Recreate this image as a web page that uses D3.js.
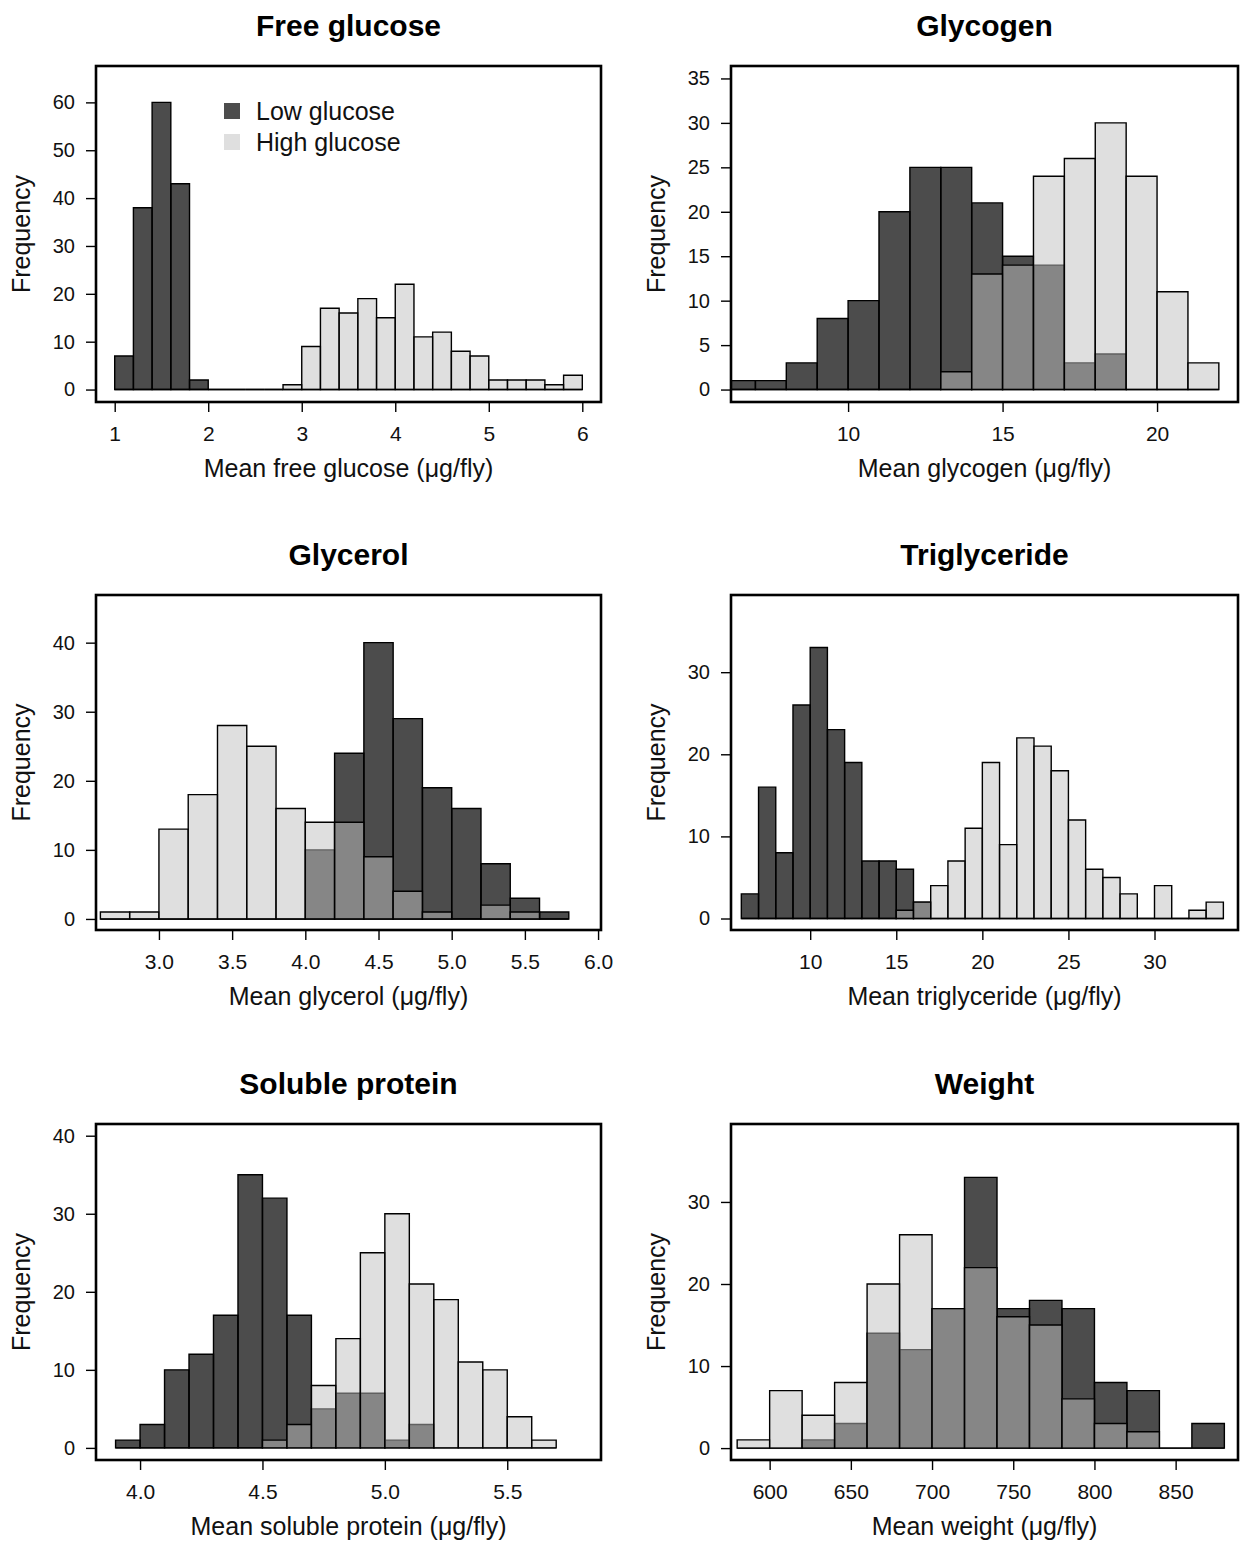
<!DOCTYPE html>
<html>
<head>
<meta charset="utf-8">
<script src="https://cdn.jsdelivr.net/npm/d3@7"></script>
<style>
  body { margin: 0; background: #fff; }
  svg { display: block; font-family: "Liberation Sans", Arial, Helvetica, sans-serif; }
</style>
</head>
<body>
<svg id="chart" width="1241" height="1542"></svg>
<script>
// histogram bin edges and counts
const glucoseBreaks = [1.0,1.2,1.4,1.6,1.8,2.0,2.2,2.4,2.6,2.8,3.0,3.2,3.4,3.6,3.8,4.0,4.2,4.4,4.6,4.8,5.0,5.2,5.4,5.6,5.8,6.0];
const glucoseLow  = [7,38,60,43,2,0,0,0,0,0,0,0,0,0,0,0,0,0,0,0,0,0,0,0,0];
const glucoseHigh = [0,0,0,0,0,0,0,0,0,1,9,17,16,19,15,22,11,12,8,7,2,2,2,1,3];

const glycogenBreaks = [6,7,8,9,10,11,12,13,14,15,16,17,18,19,20,21,22];
const glycogenLow  = [1,1,3,8,10,20,25,25,21,15,14,3,4,0,0,0];
const glycogenHigh = [0,0,0,0,0,0,0,2,13,14,24,26,30,24,11,3];

const glycerolBreaks = [2.6,2.8,3.0,3.2,3.4,3.6,3.8,4.0,4.2,4.4,4.6,4.8,5.0,5.2,5.4,5.6,5.8];
const glycerolLow  = [0,0,0,0,0,0,0,10,24,40,29,19,16,8,3,1];
const glycerolHigh = [1,1,13,18,28,25,16,14,14,9,4,1,0,2,1,0];

const trigBreaks = [6,7,8,9,10,11,12,13,14,15,16,17,18,19,20,21,22,23,24,25,26,27,28,29,30,31,32,33,34];
const trigLow  = [3,16,8,26,33,23,19,7,7,6,2,0,0,0,0,0,0,0,0,0,0,0,0,0,0,0,0,0];
const trigHigh = [0,0,0,0,0,0,0,0,0,1,2,4,7,11,19,9,22,21,18,12,6,5,3,0,4,0,1,2];

const proteinBreaks = [3.9,4.0,4.1,4.2,4.3,4.4,4.5,4.6,4.7,4.8,4.9,5.0,5.1,5.2,5.3,5.4,5.5,5.6,5.7];
const proteinLow  = [1,3,10,12,17,35,32,17,5,7,7,1,3,0,0,0,0,0];
const proteinHigh = [0,0,0,0,0,0,1,3,8,14,25,30,21,19,11,10,4,1];

const weightBreaks = [580,600,620,640,660,680,700,720,740,760,780,800,820,840,860,880];
const weightLow  = [0,0,1,3,14,12,17,33,17,18,17,8,7,0,3];
const weightHigh = [1,7,4,8,20,26,17,22,16,15,6,3,2,0,0];

// tick values
const glucoseXTicks = [1,2,3,4,5,6];
const glucoseYTicks = [0,10,20,30,40,50,60];
const glycogenXTicks = [10,15,20];
const glycogenYTicks = [0,5,10,15,20,25,30,35];
const glycerolXTicks = [3.0,3.5,4.0,4.5,5.0,5.5,6.0];
const glycerolYTicks = [0,10,20,30,40];
const trigXTicks = [10,15,20,25,30];
const trigYTicks = [0,10,20,30];
const proteinXTicks = [4.0,4.5,5.0,5.5];
const proteinYTicks = [0,10,20,30,40];
const weightXTicks = [600,650,700,750,800,850];
const weightYTicks = [0,10,20,30];

const legendLabels = ["Low glucose", "High glucose"];

const panels = [
  {title: "Free glucose", xlab: "Mean free glucose (\u03bcg/fly)", breaks: glucoseBreaks, low: glucoseLow, high: glucoseHigh,
   xTicks: glucoseXTicks, yTicks: glucoseYTicks, xlim: [0.8, 6.2], ylim: [-2.6, 67.6], col: 0, row: 0, fmt: d3.format("d"), legend: true},
  {title: "Glycogen", xlab: "Mean glycogen (\u03bcg/fly)", breaks: glycogenBreaks, low: glycogenLow, high: glycogenHigh,
   xTicks: glycogenXTicks, yTicks: glycogenYTicks, xlim: [6.21, 22.62], ylim: [-1.4, 36.4], col: 1, row: 0, fmt: d3.format("d")},
  {title: "Glycerol", xlab: "Mean glycerol (\u03bcg/fly)", breaks: glycerolBreaks, low: glycerolLow, high: glycerolHigh,
   xTicks: glycerolXTicks, yTicks: glycerolYTicks, xlim: [2.57, 6.02], ylim: [-1.6, 46.9], col: 0, row: 1, fmt: d3.format(".1f")},
  {title: "Triglyceride", xlab: "Mean triglyceride (\u03bcg/fly)", breaks: trigBreaks, low: trigLow, high: trigHigh,
   xTicks: trigXTicks, yTicks: trigYTicks, xlim: [5.4, 34.85], ylim: [-1.4, 39.4], col: 1, row: 1, fmt: d3.format("d")},
  {title: "Soluble protein", xlab: "Mean soluble protein (\u03bcg/fly)", breaks: proteinBreaks, low: proteinLow, high: proteinHigh,
   xTicks: proteinXTicks, yTicks: proteinYTicks, xlim: [3.82, 5.883], ylim: [-1.55, 41.5], col: 0, row: 2, fmt: d3.format(".1f")},
  {title: "Weight", xlab: "Mean weight (\u03bcg/fly)", breaks: weightBreaks, low: weightLow, high: weightHigh,
   xTicks: weightXTicks, yTicks: weightYTicks, xlim: [576.2, 888.4], ylim: [-1.45, 39.5], col: 1, row: 2, fmt: d3.format("d")}
];

// box geometry of the 2 x 3 grid
const colLeft = [96, 731], colRight = [601, 1238];
const rowTop = [66, 595, 1124], rowBottom = [402, 930, 1460];

const lowFill = "rgba(0,0,0,0.7)";
const highFill = "rgba(191,191,191,0.5)";

const svg = d3.select("#chart");
svg.append("rect").attr("width", 1241).attr("height", 1542).attr("fill", "#fff");

panels.forEach((p, i) => {
  const x0 = colLeft[p.col], x1 = colRight[p.col];
  const y0 = rowTop[p.row], y1 = rowBottom[p.row];
  const x = d3.scaleLinear().domain(p.xlim).range([x0, x1]);
  const y = d3.scaleLinear().domain(p.ylim).range([y1, y0]);

  const g = svg.append("g");

  g.append("clipPath").attr("id", "clip" + i)
    .append("rect").attr("x", x0).attr("y", y0).attr("width", x1 - x0).attr("height", y1 - y0);

  const bars = g.append("g").attr("clip-path", `url(#clip${i})`);

  const barPath = (d, j) => {
    const a = x(p.breaks[j]), b = x(p.breaks[j + 1]);
    return `M${a},${y(0)}V${y(d)}H${b}V${y(0)}Z`;
  };

  [[p.low, lowFill], [p.high, highFill]].forEach(([counts, fill]) => {
    bars.append("g").selectAll("path")
      .data(counts)
      .join("path")
      .attr("d", barPath)
      .attr("fill", fill)
      .attr("stroke", "#000")
      .attr("stroke-width", 1.4)
      .attr("stroke-linejoin", "miter");
  });

  // box
  g.append("rect")
    .attr("x", x0).attr("y", y0)
    .attr("width", x1 - x0).attr("height", y1 - y0)
    .attr("fill", "none").attr("stroke", "#000").attr("stroke-width", 2.6);

  // x axis
  const xAxis = d3.axisBottom(x).tickValues(p.xTicks).tickFormat(p.fmt).tickSize(9).tickPadding(14);
  const gx = g.append("g").attr("transform", `translate(0,${y1 + 1})`).call(xAxis);
  gx.select(".domain").remove();
  gx.selectAll("line").attr("stroke", "#000").attr("stroke-width", 1.4);
  gx.selectAll("text").attr("font-size", 21).attr("fill", "#111").attr("font-family", null);

  // y axis
  const yAxis = d3.axisLeft(y).tickValues(p.yTicks).tickFormat(d3.format("d")).tickSize(9).tickPadding(11);
  const gy = g.append("g").attr("transform", `translate(${x0 - 1},0)`).call(yAxis);
  gy.select(".domain").remove();
  gy.selectAll("line").attr("stroke", "#000").attr("stroke-width", 1.4);
  gy.selectAll("text").attr("font-size", 20).attr("fill", "#111").attr("font-family", null);

  // titles
  g.append("text")
    .attr("x", (x0 + x1) / 2).attr("y", y0 - 30)
    .attr("text-anchor", "middle")
    .attr("font-size", 30).attr("font-weight", "bold")
    .text(p.title);

  g.append("text")
    .attr("x", (x0 + x1) / 2).attr("y", y1 + 75)
    .attr("text-anchor", "middle")
    .attr("font-size", 25).attr("fill", "#111")
    .text(p.xlab);

  g.append("text")
    .attr("transform", `translate(${x0 - 66},${(y0 + y1) / 2}) rotate(-90)`)
    .attr("text-anchor", "middle")
    .attr("font-size", 25).attr("fill", "#111")
    .text("Frequency");

  if (p.legend) {
    const leg = g.append("g").attr("transform", "translate(224,103)");
    const items = leg.selectAll("g")
      .data(legendLabels)
      .join("g")
      .attr("transform", (d, k) => `translate(0,${k * 31})`);
    items.append("rect")
      .attr("width", 16).attr("height", 16)
      .attr("fill", (d, k) => k === 0 ? "#4d4d4d" : "#dfdfdf");
    items.append("text")
      .attr("x", 32).attr("y", 8).attr("dy", "0.35em")
      .attr("font-size", 25).attr("fill", "#111")
      .text(d => d);
  }
});
</script>
</body>
</html>
